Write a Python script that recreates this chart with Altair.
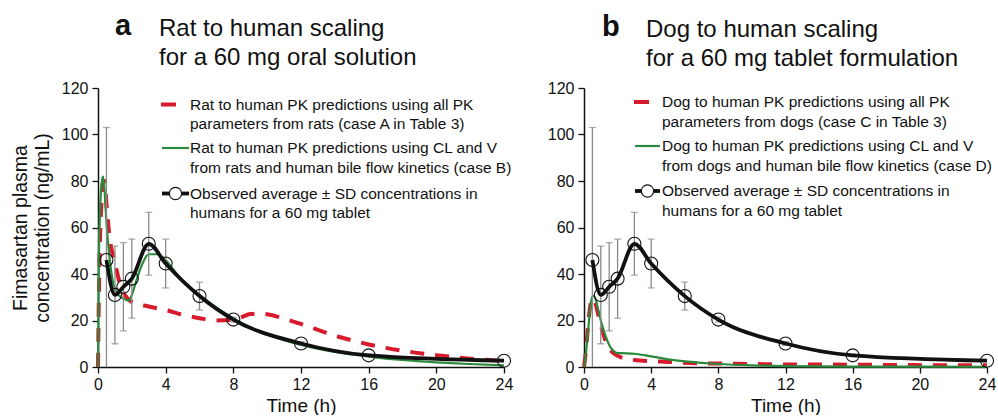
import altair as alt
import pandas as pd

FONT = "Liberation Sans"

# ---------------- data ----------------
obs_t = [0.5, 1, 1.5, 2, 3, 4, 6, 8, 12, 16, 24]
obs_mean = [46, 31, 34.5, 38, 53, 44.5, 30.5, 20.4, 10.1, 5.0, 2.7]
obs_sd = [57, 21, 19, 17, 13.5, 10.5, 6, 1.0, 0.8, 0.5, 0.3]

ratA_t = [0, 0.05, 0.1, 0.2, 0.3, 0.4, 0.5, 0.7, 1.0, 1.25, 1.5, 1.75, 2, 3, 4, 5, 6, 7, 8,
          8.5, 9, 9.5, 10, 11, 12, 13, 14, 15, 16, 18, 20, 22, 24]
ratA_v = [0, 30, 50, 70, 79, 80, 70, 55, 45, 37, 32, 29.5, 28, 26, 24.5, 22.5, 21, 20, 20.3,
          21.5, 22.8, 23, 22.7, 20.8, 18.5, 16, 13.5, 11.5, 9.7, 7, 5.1, 3.6, 2.6]

ratB_t = [0, 0.05, 0.1, 0.2, 0.3, 0.4, 0.5, 0.7, 0.9, 1.2, 1.5, 1.8, 2.0, 2.3, 2.6, 3.0, 3.5,
          4, 4.5, 5, 6, 7, 8, 9, 10, 12, 14, 16, 18, 20, 22, 24]
ratB_v = [0, 45, 62, 78, 82, 75, 62, 46, 36, 31, 29.5, 28.5, 31, 38, 44, 48.5, 48.5,
          46, 41.5, 37, 31, 25.5, 21, 17, 14, 9.5, 6.5, 4.5, 3, 2.0, 1.3, 0.7]

dogC_t = [0, 0.1, 0.2, 0.3, 0.4, 0.5, 0.6, 0.8, 1.0, 1.25, 1.5, 1.75, 2, 2.5, 3, 4, 5, 6, 7,
          8, 10, 12, 16, 20, 24]
dogC_v = [0, 6, 14, 22, 27.5, 29.5, 29, 24, 18, 12, 8, 6, 4.8, 3.6, 3.0, 2.5, 2.2, 1.8, 1.6,
          1.5, 1.3, 1.1, 1.0, 0.8, 0.7]

dogD_t = [0, 0.1, 0.2, 0.3, 0.4, 0.5, 0.6, 0.8, 1.0, 1.25, 1.5, 1.75, 2, 2.5, 3, 4, 5, 6, 7,
          8, 10, 12, 16, 20, 24]
dogD_v = [0, 5, 12, 20, 27, 30.5, 30.5, 26, 20, 14, 9.5, 7, 6, 5.9, 5.7, 4.6, 3.3, 2.4, 1.8,
          1.3, 0.7, 0.4, 0.2, 0.15, 0.1]

x_ticks = list(range(0, 25, 2))
y_ticks = list(range(0, 121, 10))

panel_a_title = ["Rat to human scaling", "for a 60 mg oral solution"]
panel_b_title = ["Dog to human scaling", "for a 60 mg tablet formulation"]
legend_a = [["Rat to human PK predictions using all PK", "parameters from rats (case A in Table 3)"],
            ["Rat to human PK predictions using CL and V", "from rats and human bile flow kinetics (case B)"],
            ["Observed average \u00b1 SD concentrations in", "humans for a 60 mg tablet"]]
legend_b = [["Dog to human PK predictions using all PK", "parameters from dogs (case C in Table 3)"],
            ["Dog to human PK predictions using CL and V", "from dogs and human bile flow kinetics (case D)"],
            ["Observed average \u00b1 SD concentrations in", "humans for a 60 mg tablet"]]

RED = "#d81b2c"
GREEN = "#2a8a3c"
BLACK = "#111111"
GREY = "#8a8a8a"

obs = pd.DataFrame({"t": obs_t, "m": obs_mean, "sd": obs_sd})
obs["lo"] = obs["m"] - obs["sd"]
obs["hi"] = obs["m"] + obs["sd"]
dummy = pd.DataFrame({"k": [0]})


def panel(ca_t, ca_v, cb_t, cb_v, titles, letter, leg, W, H, pos, show_ytitle):
    xs = alt.Scale(domain=[0, 24], nice=False)
    ys = alt.Scale(domain=[0, 120], nice=False)
    xaxis = alt.Axis(values=x_ticks, labelExpr="datum.value % 4 == 0 ? datum.label : ''",
                     title="Time (h)", grid=False, tickSize=6, labelPadding=3, titlePadding=4,
                     titleFontSize=19)
    if show_ytitle:
        yaxis = alt.Axis(values=y_ticks, labelExpr="datum.value % 20 == 0 ? datum.label : ''",
                         title=["Fimasartan plasma", "concentration (ng/mL)"], grid=False,
                         tickSize=6, labelPadding=4, titlePadding=9, titleLineHeight=22)
    else:
        yaxis = alt.Axis(values=y_ticks, labelExpr="datum.value % 20 == 0 ? datum.label : ''",
                         title=None, grid=False, tickSize=6, labelPadding=4)

    dA = pd.DataFrame({"t": ca_t, "v": ca_v})
    dB = pd.DataFrame({"t": cb_t, "v": cb_v})

    lineA = alt.Chart(dA).mark_line(color=RED, strokeWidth=4, strokeDash=[14, 11],
                                    interpolate="monotone").encode(
        x=alt.X("t:Q", scale=xs, axis=xaxis), y=alt.Y("v:Q", scale=ys, axis=yaxis))
    lineB = alt.Chart(dB).mark_line(color=GREEN, strokeWidth=2.2, interpolate="monotone").encode(
        x=alt.X("t:Q", scale=xs), y=alt.Y("v:Q", scale=ys))
    err = alt.Chart(obs).mark_rule(color=GREY, strokeWidth=1.3, clip=True).encode(
        x=alt.X("t:Q", scale=xs), y=alt.Y("lo:Q", scale=ys), y2="hi:Q")
    capT = alt.Chart(obs).mark_tick(color=GREY, thickness=1.3, size=7, orient="horizontal",
                                    clip=True).encode(x=alt.X("t:Q", scale=xs), y=alt.Y("hi:Q", scale=ys))
    capB = alt.Chart(obs).mark_tick(color=GREY, thickness=1.3, size=7, orient="horizontal",
                                    clip=True).encode(x=alt.X("t:Q", scale=xs), y=alt.Y("lo:Q", scale=ys))
    obsLine = alt.Chart(obs).mark_line(color=BLACK, strokeWidth=3.8, interpolate="monotone").encode(
        x=alt.X("t:Q", scale=xs), y=alt.Y("m:Q", scale=ys))
    obsPts = alt.Chart(obs).mark_point(shape="circle", filled=False, color=BLACK, size=170,
                                       strokeWidth=1.1, opacity=1).encode(
        x=alt.X("t:Q", scale=xs), y=alt.Y("m:Q", scale=ys))

    layers = [lineA, lineB, err, capT, capB, obsLine, obsPts]

    # panel letter and title
    layers.append(alt.Chart(dummy).mark_text(text=letter, font=FONT, fontSize=29, fontWeight="bold",
                                             align="left", baseline="alphabetic", color=BLACK).encode(
        x=alt.value(pos["lx"]), y=alt.value(pos["ty"] - 1)))
    for i, line in enumerate(titles):
        layers.append(alt.Chart(dummy).mark_text(text=line, font=FONT, fontSize=24, align="left",
                                                 baseline="alphabetic", color=BLACK).encode(
            x=alt.value(pos["tx"]), y=alt.value(pos["ty"] + 29 * i)))

    # legend
    sx1, sx2 = pos["sx1"], pos["sx2"]
    ly = pos["ly"]
    layers.append(alt.Chart(dummy).mark_rule(color=RED, strokeWidth=4).encode(
        x=alt.value(sx1 - 1), x2=alt.value(sx1 + 14), y=alt.value(ly[0])))
    layers.append(alt.Chart(dummy).mark_rule(color=GREEN, strokeWidth=2.2).encode(
        x=alt.value(sx1), x2=alt.value(sx2), y=alt.value(ly[1])))
    layers.append(alt.Chart(dummy).mark_rule(color=BLACK, strokeWidth=3.8).encode(
        x=alt.value(sx1), x2=alt.value(sx2), y=alt.value(ly[2])))
    layers.append(alt.Chart(dummy).mark_point(shape="circle", filled=True, color="white", size=150,
                                              opacity=1).encode(
        x=alt.value((sx1 + sx2) / 2), y=alt.value(ly[2])))
    layers.append(alt.Chart(dummy).mark_point(shape="circle", filled=False, color=BLACK, size=150,
                                              strokeWidth=1.1, opacity=1).encode(
        x=alt.value((sx1 + sx2) / 2), y=alt.value(ly[2])))
    for k, item in enumerate(leg):
        for i, line in enumerate(item):
            layers.append(alt.Chart(dummy).mark_text(text=line, font=FONT, fontSize=15.5, align="left",
                                                     baseline="middle", color=BLACK).encode(
                x=alt.value(pos["lgx"]), y=alt.value(ly[k] + 19.5 * i)))

    return alt.layer(*layers).properties(width=W, height=H)


pos_a = dict(lx=17, tx=61, ty=-52, sx1=64, sx2=91, lgx=92, ly=[16.5, 60, 105.5])
pos_b = dict(lx=18, tx=62, ty=-51, sx1=51, sx2=76, lgx=78, ly=[14, 58, 103])

pa = panel(ratA_t, ratA_v, ratB_t, ratB_v, panel_a_title, "a", legend_a, 406, 279, pos_a, True)
pb = panel(dogC_t, dogC_v, dogD_t, dogD_v, panel_b_title, "b", legend_b, 403, 279, pos_b, False)

chart = alt.hconcat(pa, pb, spacing=34).properties(
    padding={"left": 10, "top": 12, "right": 0, "bottom": 0},
    background="white"
).configure_view(stroke=None).configure_axis(
    domainColor=BLACK, domainWidth=1.5, tickColor=BLACK, tickWidth=1.3,
    labelFont=FONT, labelFontSize=16, labelColor=BLACK,
    titleFont=FONT, titleFontSize=19.5, titleFontWeight="normal", titleColor=BLACK,
    labelFlush=False
)

chart.save("out.html", embed_options={"renderer": "svg", "actions": False})
